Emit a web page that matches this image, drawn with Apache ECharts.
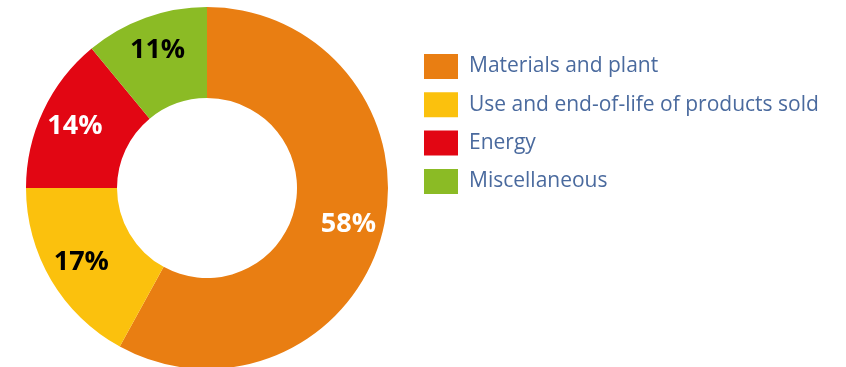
<!DOCTYPE html>
<html lang="en">
<head>
    <meta charset="UTF-8">
    <title>Emissions breakdown</title>
    <script src="https://cdn.jsdelivr.net/npm/echarts@6/dist/echarts.min.js"></script>
    <style>
        html, body { margin: 0; padding: 0; background: #fff; }
        #chart { width: 846px; height: 367px; }
    </style>
</head>
<body>
    <div id="chart"></div>
    <script type="text/javascript">
        // data
        var categories = ['Materials and plant', 'Use and end-of-life of products sold', 'Energy', 'Miscellaneous'];
        var shares = [58, 17, 14, 11];
        // slice colours and label colours
        var colors = ['#E97E12', '#FBC10D', '#E20613', '#8BBB25'];
        var labelColors = ['#ffffff', '#000000', '#ffffff', '#000000'];

        var cx = 207, cy = 188, rIn = 90, rOut = 181;
        var labelR = 146;   // labels sit a bit outside the ring's middle

        var total = shares.reduce(function (a, b) { return a + b; }, 0);
        // mid angle of every slice, clockwise from 12 o'clock
        var midAngles = [];
        var acc = 0;
        shares.forEach(function (v) {
            midAngles.push((acc + v / 2) / total * 2 * Math.PI);
            acc += v;
        });

        var myChart = echarts.init(document.getElementById('chart'));

        var pieData = categories.map(function (name, i) {
            return {
                name: name,
                value: shares[i],
                itemStyle: { color: colors[i] },
                label: { color: labelColors[i] }
            };
        });

        var option = {
            animation: false,
            legend: {
                orient: 'vertical',
                left: 424,
                top: 51.5,
                padding: 0,
                itemWidth: 34,
                itemHeight: 25,
                itemGap: 8.3,
                icon: 'rect',
                selectedMode: false,
                textStyle: {
                    color: '#4A6A9E',
                    fontFamily: 'Open Sans',
                    fontSize: 21,
                    lineHeight: 25,
                    padding: [5, 0, 0, 6]
                },
                data: categories
            },
            series: [
                {
                    type: 'pie',
                    center: [cx, cy],
                    radius: [rIn, rOut],
                    startAngle: 90,
                    clockwise: true,
                    silent: true,
                    label: {
                        show: true,
                        position: 'inside',
                        formatter: '{c}%',
                        fontFamily: 'Open Sans',
                        fontWeight: 'bold',
                        fontSize: 27
                    },
                    labelLayout: function (params) {
                        var a = midAngles[params.dataIndex];
                        return {
                            x: cx + labelR * Math.sin(a),
                            y: cy - labelR * Math.cos(a)
                        };
                    },
                    labelLine: { show: false },
                    itemStyle: { borderWidth: 0 },
                    data: pieData
                }
            ]
        };
        myChart.setOption(option);
    </script>
</body>
</html>
